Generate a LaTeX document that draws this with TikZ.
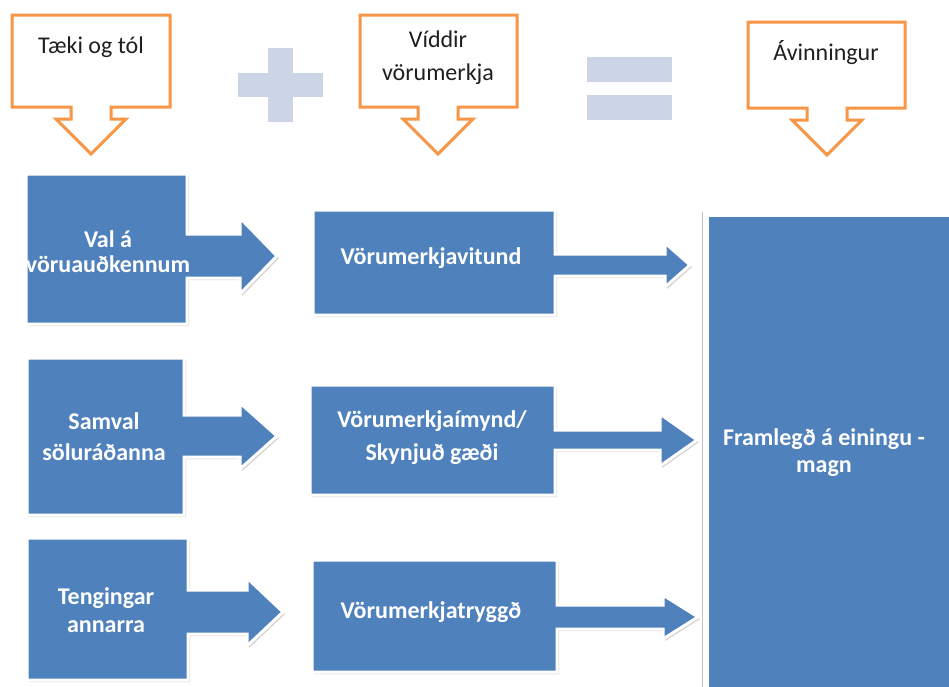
\documentclass[tikz,border=0pt]{standalone}
\usepackage{fontspec}
\setmainfont{Carlito}
\usetikzlibrary{shadows}
\definecolor{boxblue}{HTML}{4F81BD}
\definecolor{callorange}{HTML}{F79646}
\definecolor{signgray}{RGB}{204,213,230}
\definecolor{txtdark}{HTML}{1F1F1F}
\tikzset{
 bluebox/.style={fill=boxblue, draw=white, line width=3pt, line join=miter,
   drop shadow={shadow xshift=2pt, shadow yshift=-2pt, opacity=0.3, fill=black!60}},
 callout/.style={fill=white, draw=callorange, line width=3pt, line join=miter},
 signshape/.style={fill=signgray, draw=none},
 boxtext/.style={text=white, font=\fontsize{24}{28}\selectfont\bfseries, align=center, inner sep=0pt},
 calltext/.style={text=txtdark, font=\fontsize{24}{33}\selectfont, align=center, inner sep=0pt},
}
% #1 left #2 top #3 right #4 bottom #5 centre x
\newcommand{\mycalloutpath}[5]{%
 \path[callout] (#1,#2) -- (#3,#2) -- (#3,#4) -- ({#5+20},#4) -- ({#5+20},{#4+12})
  -- ({#5+35},{#4+12}) -- (#5,{#4+47}) -- ({#5-35},{#4+12}) -- ({#5-20},{#4+12})
  -- ({#5-20},#4) -- (#1,#4) -- cycle;}
% #1 left #2 top #3 right #4 bottom #5 arrow centre y #6 stem half #7 head half #8 head base x #9 tip x
\newcommand{\myboxarrow}[9]{%
 \path[bluebox] (#1,#2) -- (#3,#2) -- (#3,{#5-#6}) -- (#8,{#5-#6}) -- (#8,{#5-#7})
  -- (#9,#5) -- (#8,{#5+#7}) -- (#8,{#5+#6}) -- (#3,{#5+#6}) -- (#3,#4) -- (#1,#4) -- cycle;}
\begin{document}
\begin{tikzpicture}[x=1pt,y=-1pt]
\useasboundingbox (0,0) rectangle (949,686);
\fill[white] (0,0) rectangle (949,686);

% callouts
\mycalloutpath{12}{15}{170}{107}{91}
\mycalloutpath{360}{15}{517}{107}{438}
\mycalloutpath{748}{22}{905}{108}{827}
\node[calltext] (t1) at (91,47) {Tæki og tól};
\node[calltext] (t2) at (438,58) {Víddir\\vörumerkja};
\node[calltext] (t3) at (826,53) {Ávinningur};

% plus and equals
\path[signshape] (238,73) rectangle (323,97);
\path[signshape] (268,48) rectangle (293,122);
\path[signshape] (587,57) rectangle (672,82);
\path[signshape] (587,95) rectangle (672,120);

% left column
\myboxarrow{26}{174}{187}{324}{256}{22}{38}{240}{277}
\myboxarrow{27}{358}{184}{515}{436}{21}{33}{240}{277}
\myboxarrow{27}{538}{188}{680}{612}{22}{34}{247}{283}
% middle column
\myboxarrow{313}{210}{555}{315}{265}{11}{22}{665}{690}
\myboxarrow{310}{385}{555}{495}{440}{10}{26}{660}{697}
\myboxarrow{312}{560}{557}{672}{617}{12}{22}{663}{698}
% big box
\draw[black!25, line width=1pt] (702,212) -- (702,690);
\path[bluebox] (707,215) rectangle (955,695);

\node[boxtext, font=\fontsize{24}{25}\selectfont\bfseries] (l1) at (108,252) {Val á\\vöruauðkennum};
\node[boxtext, font=\fontsize{24}{31}\selectfont\bfseries] (l2) at (104,437) {Samval\\söluráðanna};
\node[boxtext, font=\fontsize{24}{28}\selectfont\bfseries] (l3) at (106,610) {Tengingar\\annarra};
\node[boxtext] (m1) at (431,258) {Vörumerkjavitund};
\node[boxtext, font=\fontsize{24}{33}\selectfont\bfseries] (m2) at (432,438) {Vörumerkjaímynd/\\Skynjuð gæði};
\node[boxtext] (m3) at (431,612) {Vörumerkjatryggð};
\node[boxtext, font=\fontsize{24}{27}\selectfont\bfseries] (big) at (824,453) {Framlegð á einingu -\\magn};
\end{tikzpicture}
\end{document}
